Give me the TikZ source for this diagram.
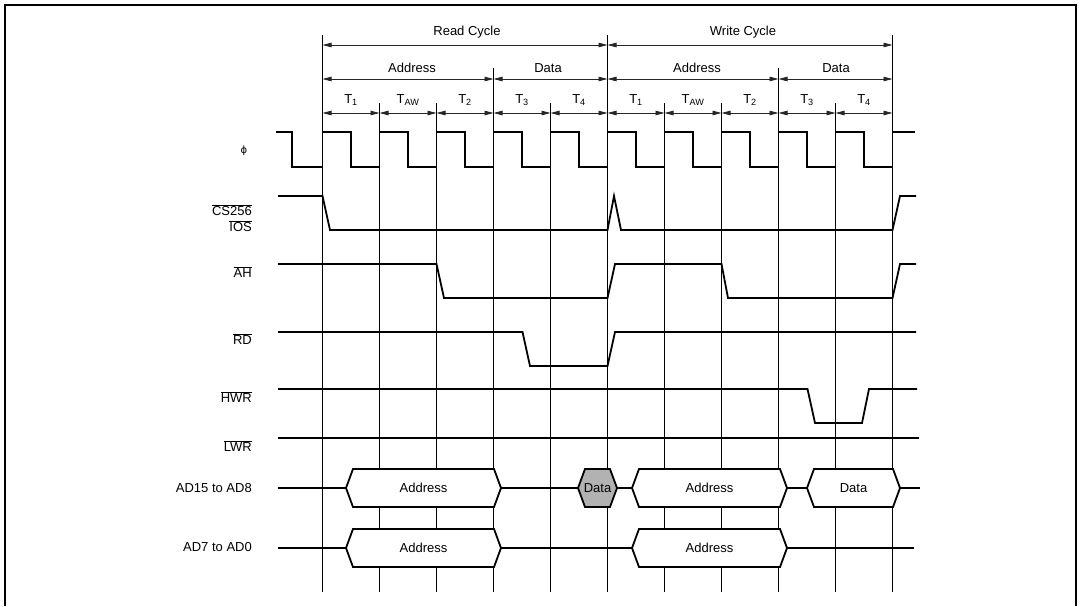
\documentclass[tikz,border=0pt]{standalone}
\usepackage{fontspec}
\setmainfont{Liberation Sans}
\newfontfamily\phifont{DejaVu Sans}
\usetikzlibrary{arrows.meta}
\newcommand{\ovl}[1]{$\overline{\hbox{#1}}$}
\newcommand{\hexa}[6]{% name, xl, xr, ymid, fill, text
  \filldraw[hexbox, fill=#5] (#2,#4) -- ({#2+7},{#4-19}) -- ({#3-7},{#4-19}) -- (#3,#4) -- ({#3-7},{#4+19}) -- ({#2+7},{#4+19}) -- cycle;
  \node[lbl] (#1) at ({(#2+#3)/2},#4) {#6};}
\begin{document}
\begin{tikzpicture}[x=1pt,y=-1pt,
  font=\fontsize{13}{15.6}\selectfont,
  wave/.style={line width=1.8pt, line join=miter},
  gridline/.style={line width=1.3pt},
  dimarrow/.style={line width=0.8pt, draw=black!85, {Triangle[length=9pt,width=4.5pt]}-{Triangle[length=9pt,width=4.5pt]}},
  hexbox/.style={line width=1.8pt, line join=miter},
  lbl/.style={inner sep=0pt, align=center},
  sig/.style={inner sep=0pt, anchor=east, align=right}]
\useasboundingbox (0,0) rectangle (1081,606);
% frame
\draw[line width=2.2pt] (5,606) -- (5,5) -- (1076,5) -- (1076,606);

% vertical grid lines
\foreach \k/\top in {0/35,1/103,2/103,3/68,4/103,5/35,6/103,7/103,8/68,9/103,10/35}{
  \coordinate (t\k) at ({322.5+57*\k},\top);
  \coordinate (b\k) at ({322.5+57*\k},592);
  \draw[gridline] (t\k) -- (b\k);
}

% dimension rows
\foreach \k in {0,...,10}{
  \coordinate (c\k) at ({322.5+57*\k},45);
  \coordinate (a\k) at ({322.5+57*\k},79);
  \coordinate (p\k) at ({322.5+57*\k},113);
}
\draw[dimarrow] (c0) -- (c5);
\draw[dimarrow] (c5) -- (c10);
\node[lbl] (rc) at (467,32) {Read Cycle};
\node[lbl] (wc) at (743,32) {Write Cycle};
\draw[dimarrow] (a0) -- (a3);
\draw[dimarrow] (a3) -- (a5);
\draw[dimarrow] (a5) -- (a8);
\draw[dimarrow] (a8) -- (a10);
\node[lbl] (ra) at (412,68) {Address};
\node[lbl] (rdt) at (548,68) {Data};
\node[lbl] (wa) at (697,68) {Address};
\node[lbl] (wdt) at (836,68) {Data};
\foreach \i [evaluate=\i as \j using int(\i+1)] in {0,...,9}{
  \draw[dimarrow] (p\i) -- (p\j);
}
\foreach \k/\s in {0/1,1/AW,2/2,3/3,4/4,5/1,6/AW,7/2,8/3,9/4}{
  \node[lbl] (tl\k) at ({351+57*\k},100) {T\textsubscript{\s}};
}

% signal labels
\node[lbl] (phi) at (244,151) {\phifont\fontsize{10}{12}\selectfont ϕ};
\node[sig] (cs) at (252,218) {\ovl{CS256}\\[1pt]\ovl{IOS}};
\node[sig] (ah) at (252,272) {\ovl{AH}};
\node[sig] (rd) at (252,339) {\ovl{RD}};
\node[sig] (hwr) at (252,397) {\ovl{HWR}};
\node[sig] (lwr) at (252,446) {\ovl{LWR}};
\node[sig] (ad15) at (252,488) {AD15 to AD8};
\node[sig] (ad7) at (252,547) {AD7 to AD0};

% clock
\draw[wave] (276,132) -- (292,132) -- (292,167)
  \foreach \k in {0,...,9}{ -- ({322.5+57*\k},167) -- ({322.5+57*\k},132) -- ({351+57*\k},132) -- ({351+57*\k},167) }
  -- (892.5,167) -- (892.5,132) -- (915,132);
% CS256 / IOS
\draw[wave] (278,196) -- (322.5,196) -- (330,230) -- (607.5,230) -- (614,196) -- (621,230) -- (892.5,230) -- (900,196) -- (916,196);
% AH
\draw[wave] (278,264) -- (436.5,264) -- (444,298) -- (607.5,298) -- (615,264) -- (721.5,264) -- (728,298) -- (892.5,298) -- (900,264) -- (916,264);
% RD
\draw[wave] (278,332) -- (522.5,332) -- (530,366) -- (607.5,366) -- (615,332) -- (916,332);
% HWR
\draw[wave] (278,389) -- (807.5,389) -- (815,423) -- (862,423) -- (869,389) -- (917,389);
% LWR
\draw[wave] (278,438) -- (919,438);

% AD15 to AD8
\draw[wave] (278,488) -- (346,488);
\draw[wave] (501,488) -- (578,488);
\draw[wave] (617,488) -- (632,488);
\draw[wave] (787,488) -- (807,488);
\draw[wave] (900,488) -- (920,488);
\hexa{h1}{346}{501}{488}{white}{Address}
\hexa{h2}{578}{617}{488}{black!30}{Data}
\hexa{h3}{632}{787}{488}{white}{Address}
\hexa{h4}{807}{900}{488}{white}{Data}

% AD7 to AD0
\draw[wave] (278,548) -- (346,548);
\draw[wave] (501,548) -- (632,548);
\draw[wave] (787,548) -- (914,548);
\hexa{h5}{346}{501}{548}{white}{Address}
\hexa{h6}{632}{787}{548}{white}{Address}
\end{tikzpicture}
\end{document}
